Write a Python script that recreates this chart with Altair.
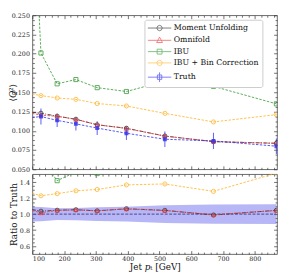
import altair as alt
import pandas as pd

# ---------------- data ----------------
pt_centers = [75, 127, 178, 237, 304, 396, 517, 670, 868]
truth = [0.1160, 0.1185, 0.1135, 0.1090, 0.1035, 0.0968, 0.0890, 0.0868, 0.0800]
truth_err = [0.0110, 0.0105, 0.0085, 0.0085, 0.0090, 0.0088, 0.0100, 0.0105, 0.0100]
moment = [0.1250, 0.1228, 0.1190, 0.1150, 0.1077, 0.1033, 0.0932, 0.0858, 0.0838]
omnifold = [0.1245, 0.1204, 0.1188, 0.1148, 0.1079, 0.1030, 0.0930, 0.0862, 0.0836]
ibu = [0.650, 0.201, 0.161, 0.1665, 0.156, 0.151, 0.1645, 0.1577, 0.135]
ibu_bin = [0.1496, 0.1457, 0.1426, 0.1408, 0.1354, 0.1322, 0.1226, 0.1115, 0.1210]

series_names = ["Moment Unfolding", "Omnifold", "IBU", "IBU + Bin Correction", "Truth"]
series_values = [moment, omnifold, ibu, ibu_bin, truth]
colors = ["#333333", "#ee3b3b", "#3c9c3c", "#ffb52e", "#3535f0"]
shapes = ["circle", "triangle-up", "square", "circle", "square"]
dashes = [[4, 1.5, 1, 1.5], [2.5, 1.5], [2.5, 1.5], [2.5, 1.5], [2.5, 1.5]]
ring = "M-0.55,0L-0.39,-0.39L0,-0.55L0.39,-0.39L0.55,0L0.39,0.39L0,0.55L-0.39,0.39Z"
legend_paths = [
    "M-2.4,0L2.4,0M" + ring[1:],
    "M-2.4,0L2.4,0M0,-0.65L0.6,0.45L-0.6,0.45Z",
    "M-2.4,0L2.4,0M-0.5,-0.5L0.5,-0.5L0.5,0.5L-0.5,0.5Z",
    "M-2.4,0L2.4,0M" + ring[1:],
    "M-2.4,0L2.4,0M0,-1.0L0,1.0M-0.45,-0.45L0.45,-0.45L0.45,0.45L-0.45,0.45Z",
]

x_domain = [100, 870]
x_major = [100, 200, 300, 400, 500, 600, 700, 800]
x_minor = [v for v in range(100, 871, 20) if v % 100]
top_domain = [0.05, 0.25]
top_major = [0.05, 0.075, 0.1, 0.125, 0.15, 0.175, 0.2, 0.225, 0.25]
top_minor = [round(0.05 + i * 0.00625, 5) for i in range(33) if i % 4]
bot_domain = [0.5, 1.5]
bot_major = [0.6, 0.8, 1.0, 1.2, 1.4]
bot_minor = [0.55, 0.65, 0.7, 0.75, 0.85, 0.9, 0.95, 1.05, 1.1, 1.15, 1.25, 1.3, 1.35, 1.45]

rows = []
for name, vals in zip(series_names, series_values):
    for i, (x, v) in enumerate(zip(pt_centers, vals)):
        rows.append(dict(series=name, pt=x, value=v, ratio=v / truth[i],
                         lo=truth[i] - truth_err[i], hi=truth[i] + truth_err[i],
                         rlo=1 - truth_err[i] / truth[i], rhi=1 + truth_err[i] / truth[i],
                         hidden=0.26))
df = pd.DataFrame(rows)
df_truth = df[df.series == "Truth"]
df_open = df[df.series != "Truth"]
axis_df = pd.DataFrame({"pt": [200, 300], "value": [0.1, 0.2], "ratio": [0.8, 1.2]})

FONT = "DejaVu Serif"
AX = "#333333"
W = 251
H_TOP = 158
H_BOT = 82

xs = alt.Scale(domain=x_domain, nice=False, zero=False)
ys_top = alt.Scale(domain=top_domain, nice=False, zero=False)
ys_bot = alt.Scale(domain=bot_domain, nice=False, zero=False)
cscale = alt.Scale(domain=series_names, range=colors)
sscale = alt.Scale(domain=series_names, range=shapes)
dscale = alt.Scale(domain=series_names, range=dashes)


def tick_axis(orient, values, size):
    return alt.Axis(orient=orient, values=values, tickSize=size, offset=-size, labels=False,
                    domain=False, grid=False, ticks=True, tickColor=AX, tickWidth=0.7, title=None)


def axis_layers(ycol, ys, y_major, y_minor, y_title, title_x, height, x_labels):
    base = alt.Chart(axis_df).mark_point(opacity=0, size=1, clip=True)
    lab_y = alt.Axis(orient="left", values=y_major, labels=True, ticks=False, domain=False, grid=False,
                     labelFont=FONT, labelFontSize=6.5, labelColor="#222", labelPadding=3,
                     format=".3f" if ycol == "value" else ".1f",
                     title=y_title, titleFont=FONT, titleFontSize=9, titleFontWeight="normal",
                     titleColor="#111", titleAngle=270, titleX=title_x, titleY=height / 2,
                     titleAlign="center", titleBaseline="bottom")
    if x_labels:
        lab_x = alt.Axis(orient="bottom", values=x_major, labels=True, ticks=False, domain=False, grid=False,
                         labelFont=FONT, labelFontSize=6.5, labelColor="#222", labelPadding=2,
                         title="Jet 𝑝ₜ [GeV]", titleFont=FONT, titleFontSize=9,
                         titleFontWeight="normal", titleColor="#111", titlePadding=0)
        xa = alt.X("pt:Q", scale=xs, axis=lab_x)
    else:
        xa = alt.X("pt:Q", scale=xs, axis=None)
    layers = [
        base.encode(x=xa, y=alt.Y(f"{ycol}:Q", scale=ys, axis=lab_y)),
        base.encode(x=alt.X("pt:Q", scale=xs, axis=tick_axis("bottom", x_major, 3.5)),
                    y=alt.Y(f"{ycol}:Q", scale=ys, axis=tick_axis("left", y_major, 3.5))),
        base.encode(x=alt.X("pt:Q", scale=xs, axis=tick_axis("bottom", x_minor, 2)),
                    y=alt.Y(f"{ycol}:Q", scale=ys, axis=tick_axis("left", y_minor, 2))),
        base.encode(x=alt.X("pt:Q", scale=xs, axis=tick_axis("top", x_major, 3.5)),
                    y=alt.Y(f"{ycol}:Q", scale=ys, axis=tick_axis("right", y_major, 3.5))),
        base.encode(x=alt.X("pt:Q", scale=xs, axis=tick_axis("top", x_minor, 2)),
                    y=alt.Y(f"{ycol}:Q", scale=ys, axis=tick_axis("right", y_minor, 2))),
    ]
    return layers


X = alt.X("pt:Q", scale=xs, axis=None)
col = alt.Color("series:N", scale=cscale, legend=None)
dash = alt.StrokeDash("series:N", scale=dscale, legend=None)
shp = alt.Shape("series:N", scale=sscale, legend=None)

# ---------------- top panel ----------------
Yt = alt.Y("value:Q", scale=ys_top, axis=None)
top_lines = alt.Chart(df).mark_line(clip=True, strokeWidth=1, opacity=0.85).encode(
    x=X, y=Yt, color=col, strokeDash=dash, order="pt:Q")
top_err = alt.Chart(df_truth).mark_rule(clip=True, color=colors[4], strokeWidth=1.1, opacity=0.75).encode(
    x=X, y=alt.Y("lo:Q", scale=ys_top, axis=None), y2="hi:Q")
top_pts = alt.Chart(df_open).mark_point(clip=True, filled=False, size=18, strokeWidth=0.9, opacity=0.9).encode(
    x=X, y=Yt, color=col, shape=shp)
top_truth_pts = alt.Chart(df_truth).mark_point(clip=True, filled=True, shape="square", size=16,
                                                color=colors[4], opacity=0.85).encode(x=X, y=Yt)
leg = dict(orient="none", legendX=115, legendY=4.6, title=None)
legend_layer = alt.Chart(df).mark_point(clip=True, filled=False, strokeWidth=0.9).encode(
    x=X,
    y=alt.Y("hidden:Q", scale=ys_top, axis=None),
    color=alt.Color("series:N", scale=cscale,
                    legend=alt.Legend(labelFont=FONT, labelFontSize=8, labelColor="#111",
                                      symbolSize=100, symbolStrokeWidth=0.9, symbolOffset=7,
                                      labelOffset=9, rowPadding=1.6, padding=3,
                                      fillColor="white", strokeColor="#cccccc", cornerRadius=2, **leg)),
    shape=alt.Shape("series:N", scale=alt.Scale(domain=series_names, range=legend_paths),
                    legend=alt.Legend(**leg)),
)

top = alt.layer(
    *axis_layers("value", ys_top, top_major, top_minor, "⟨𝑄²⟩", -15, H_TOP, False),
    top_lines, top_err, top_pts, top_truth_pts, legend_layer,
).resolve_axis(x="independent", y="independent").resolve_scale(
    color="independent", shape="independent"
).properties(width=W, height=H_TOP)

# ---------------- ratio panel ----------------
Yb = alt.Y("ratio:Q", scale=ys_bot, axis=None)
band = alt.Chart(df_truth).mark_area(clip=True, color="#6f6ff0", opacity=0.5).encode(
    x=X, y=alt.Y("rlo:Q", scale=ys_bot, axis=None), y2="rhi:Q")
truth_line = alt.Chart(df_truth).mark_line(clip=True, color="#44448a", strokeWidth=1,
                                           strokeDash=[3, 1.5]).encode(x=X, y=Yb)
bot_lines = alt.Chart(df_open).mark_line(clip=True, strokeWidth=1, opacity=0.85).encode(
    x=X, y=Yb, color=col, strokeDash=dash, order="pt:Q")
bot_pts = alt.Chart(df_open).mark_point(clip=True, filled=False, size=18, strokeWidth=0.9, opacity=0.9).encode(
    x=X, y=Yb, color=col, shape=shp)

bottom = alt.layer(
    *axis_layers("ratio", ys_bot, bot_major, bot_minor, "Ratio to Truth", -14, H_BOT, True),
    band, truth_line, bot_lines, bot_pts,
).resolve_axis(x="independent", y="independent").properties(width=W, height=H_BOT)

chart = alt.vconcat(top, bottom, spacing=0).properties(padding=0).configure_view(
    stroke="#444444", strokeWidth=0.8)

chart.save("out.html", embed_options={"renderer": "svg", "actions": False})
